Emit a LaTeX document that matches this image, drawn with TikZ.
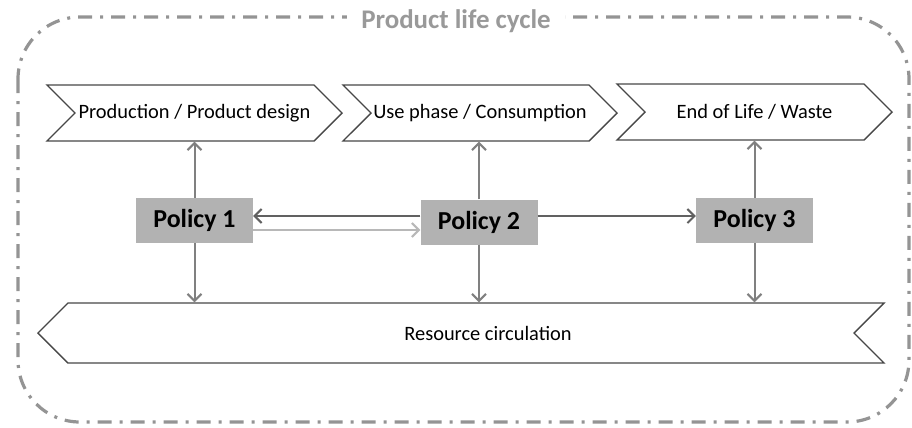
\documentclass[tikz,border=0pt]{standalone}
\usepackage{fontspec}
\setmainfont{Carlito}
\usepackage{tikz}
\usetikzlibrary{shapes.symbols}
\usetikzlibrary{arrows.meta,calc}
\tikzstyle{frame}=[draw=black!42, line width=3.2bp, dash pattern=on 14bp off 8bp on 3bp off 8bp, rounded corners=62bp]
\tikzstyle{stage}=[signal, draw=black!72, line width=1.4bp, fill=white, inner sep=0pt, minimum height=56bp, font=\fontsize{20.5}{24}\selectfont]
\tikzstyle{policy}=[fill=black!30, minimum width=117bp, minimum height=45bp, font=\bfseries\fontsize{26}{30}\selectfont]
\tikzstyle{link}=[draw=black!50, line width=2bp, -{Straight Barb[length=7bp,width=14bp]}]

\begin{document}
\begin{tikzpicture}[x=1bp,y=-1bp]
\useasboundingbox (0,0) rectangle (912,427);
\draw[frame] (18,17) rectangle (909,422);
\node[fill=white, text=black!40, inner xsep=14bp, font=\bfseries\fontsize{27}{30}\selectfont] (title) at (456,21) {Product life cycle};
\node[stage, signal from=west, signal to=east, minimum width=295bp] (prod) at (194.5,113) {Production / Product design};
\node[stage, signal from=west, signal to=east, minimum width=274bp] (use) at (480,113) {Use phase / Consumption};
\node[stage, signal from=west, signal to=east, minimum width=275bp] (eol) at (754.5,112) {End of Life / Waste};
\node[stage, signal from=east, signal to=west, minimum width=846bp, minimum height=60bp] (res) at (461,333) {\hspace*{54bp}Resource circulation};
\node[policy] (p1) at (194.5,220.5) {Policy 1};
\node[policy] (p2) at (479,222) {Policy 2};
\node[policy] (p3) at (754.5,220.5) {Policy 3};
\foreach \p/\s in {p1/prod,p2/use,p3/eol} {
  \draw[link] (\p) -- (\p |- \s.south);
  \draw[link] (\p) -- (\p |- res.north);
}
\draw[link, draw=black!62] ([yshift=6pt]p2.west) -- ([yshift=6pt]p2.west -| p1.east);
\draw[link, draw=black!28] ([yshift=-8pt]p2.west -| p1.east) -- ([yshift=-8pt]p2.west);
\draw[link, draw=black!62] ([yshift=6pt]p2.east) -- ([yshift=6pt]p2.east -| p3.west);
\end{tikzpicture}
\end{document}
